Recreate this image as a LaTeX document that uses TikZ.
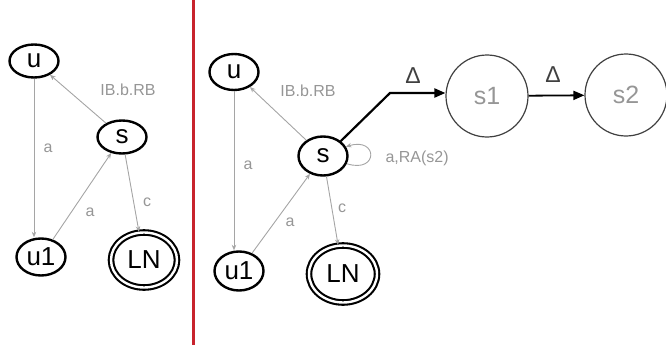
\documentclass[tikz,border=0pt]{standalone}
\usepackage{fontspec}
\setmainfont{Liberation Sans}
\usetikzlibrary{shapes.geometric,arrows.meta}
\definecolor{edgegray}{RGB}{165,165,165}
\definecolor{labgray}{RGB}{150,150,150}
\definecolor{divred}{RGB}{200,35,45}
\begin{document}
\begin{tikzpicture}[x=1pt,y=-1pt,
        st/.style={draw, ellipse, line width=2.4pt, inner sep=0pt, minimum width=49pt, minimum height=33pt, font=\fontsize{26}{26}\selectfont},
        fin/.style={st, double, double distance=2.4pt, line width=2.1pt, minimum width=66pt, minimum height=55pt},
        big/.style={draw=black!75, circle, line width=1.2pt, inner sep=0pt, minimum size=82pt, text=labgray, font=\fontsize{25}{25}\selectfont},
        tr/.style={draw=edgegray, line width=0.9pt, -{Stealth[length=5.5pt,width=4.5pt]}},
        lab/.style={text=labgray, font=\fontsize{16}{16}\selectfont},
        dlab/.style={text=black!75, font=\fontsize{23}{23}\selectfont},
        delta/.style={draw, line width=2.2pt, -{Triangle[length=11pt,width=9pt]}}]
    \useasboundingbox (0,0) rectangle (666,345);
    % left automaton
    \node[st] (lu) at (34,61) {u};
    \node[st] (ls) at (122,137) {s};
    \node[st, minimum height=37pt] (lu1) at (41,257) {u1};
    \node[fin] (lLN) at (144,260) {LN};
    \draw[tr] (lu.south) -- (lu.south |- lu1.north);
    \draw[tr] (ls) -- (lu);
    \draw[tr] (lu1) -- (ls);
    \draw[tr] (ls) -- (lLN);
    \node[lab] (llb) at (128,90) {IB.b.RB};
    \node[lab] (lla) at (48,148) {a};
    \node[lab] (llb2) at (90,212) {a};
    \node[lab] (llc) at (147,202) {c};
    % divider
    \draw[divred, line width=3pt] (193,0) -- (193,345);
    % right automaton
    \node[st, minimum height=36pt] (ru) at (234,72) {u};
    \node[st, minimum height=39pt] (rs) at (323,156) {s};
    \node[st, minimum height=39pt] (ru1) at (239,271) {u1};
    \node[fin, minimum width=68pt, minimum height=57pt] (rLN) at (343,274) {LN};
    \node[big] (s1) at (487,96) {s1};
    \node[big] (s2) at (626,95) {s2};
    \coordinate (corner) at (390,93);
    \draw[tr] (ru.south) -- (ru.south |- ru1.north);
    \draw[tr] (rs) -- (ru);
    \draw[tr] (ru1) -- (rs);
    \draw[tr] (rs) -- (rLN);
    \draw[tr] (rs.-18) .. controls +(32,10) and +(32,-10) .. (rs.22);
    \draw[delta] (rs.40) -- (corner) -- (corner -| s1.west);
    \draw[delta, line width=1.8pt] (s1) -- (s2);
    \node[lab] (rlb) at (308,91) {IB.b.RB};
    \node[lab] (rla) at (248,165) {a};
    \node[lab] (rla2) at (290,222) {a};
    \node[lab] (rlc) at (342,208) {c};
    \node[lab, anchor=west] (rloop) at (382,158) {a,RA(s2)};
    \node[dlab] (d1) at (413,76) {Δ};
    \node[dlab] (d2) at (553,75) {Δ};
\end{tikzpicture}
\end{document}
